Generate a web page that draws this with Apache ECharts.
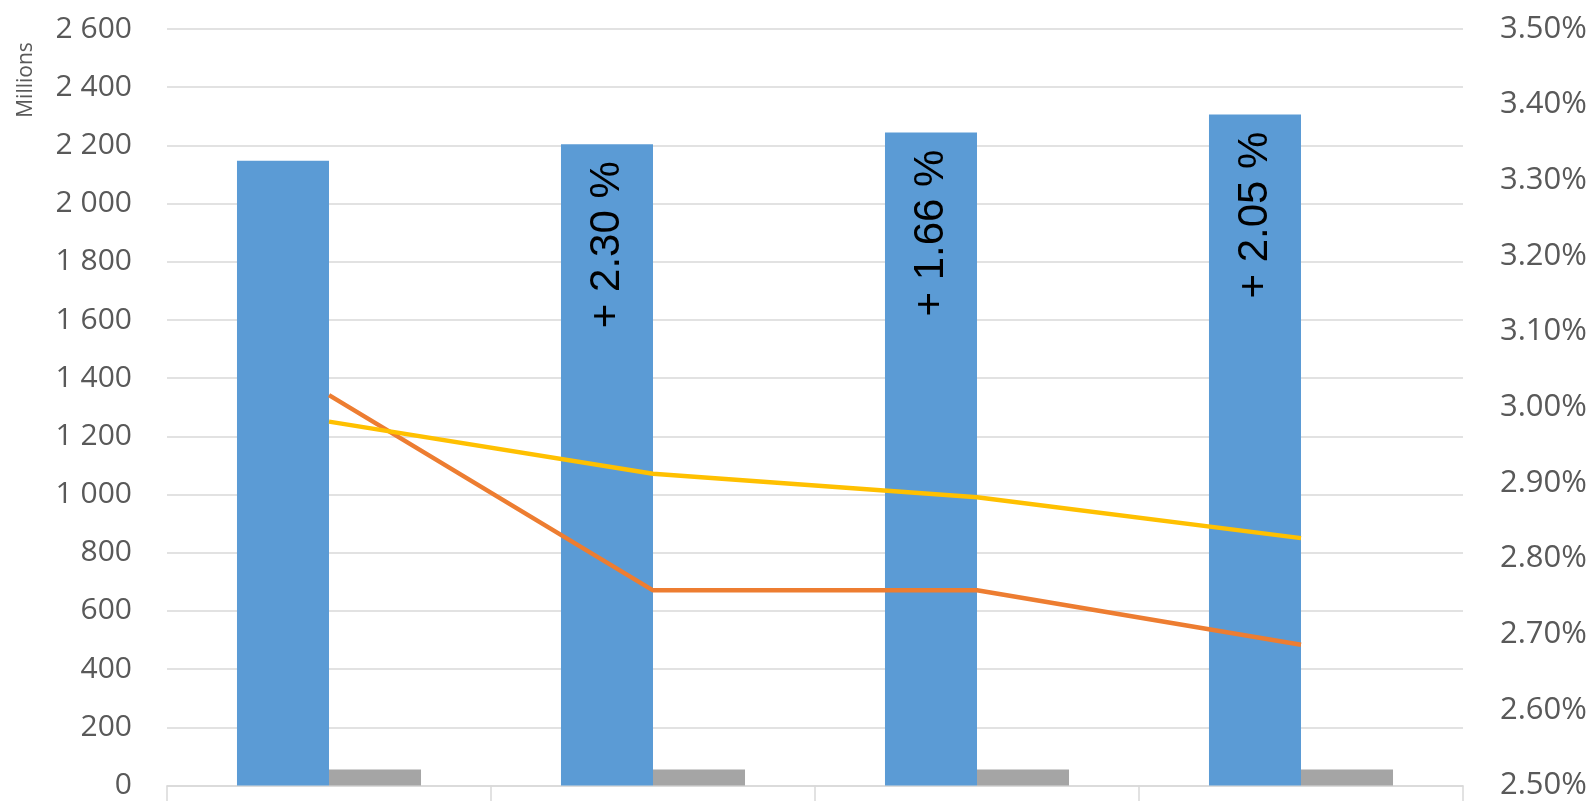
<!DOCTYPE html>
<html>
<head>
<meta charset="utf-8">
<script src="https://cdn.jsdelivr.net/npm/echarts@6/dist/echarts.min.js"></script>
<style>
  html, body { margin: 0; padding: 0; background: #fff; }
  #chart { width: 1595px; height: 801px; }
</style>
</head>
<body>
<div id="chart"></div>
<script>
// Categories (unlabelled on the axis)
const categories = ['1', '2', '3', '4'];
// Left axis, millions
const totalValues = [2147, 2204, 2244, 2306];
const smallValues = [55, 55, 55, 55];
// Growth labels shown inside the main bars
const growthLabels = ['', '+ 2.30 %', '+ 1.66 %', '+ 2.05 %'];
// Right axis, percent
const orangeRates = [3.016, 2.758, 2.758, 2.686];
const yellowRates = [2.981, 2.912, 2.881, 2.827];

const axisTextColor = '#595959';
const gridColor = '#D9D9D9';

function spaceThousands(v) {
  return String(Math.round(v)).replace(/\B(?=(\d{3})+(?!\d))/g, ' ');
}

const chart = echarts.init(document.getElementById('chart'), null, { renderer: 'canvas' });

chart.setOption({
  animation: false,
  backgroundColor: '#ffffff',
  grid: { left: 167, right: 132, top: 29, bottom: 14, containLabel: false },
  xAxis: {
    type: 'category',
    data: categories,
    boundaryGap: true,
    axisLine: { show: true, lineStyle: { color: gridColor, width: 1.5 } },
    axisTick: { show: true, length: 16, interval: 0, lineStyle: { color: gridColor, width: 1.5 } },
    axisLabel: { show: false }
  },
  yAxis: [
    {
      type: 'value',
      min: 0,
      max: 2600,
      interval: 200,
      axisLine: { show: false },
      axisTick: { show: false },
      splitLine: { show: true, lineStyle: { color: gridColor, width: 1.5 } },
      axisLabel: {
        color: axisTextColor,
        fontFamily: 'Open Sans',
        fontSize: 30,
        margin: 35,
        formatter: spaceThousands
      }
    },
    {
      type: 'value',
      min: 2.5,
      max: 3.5,
      interval: 0.1,
      position: 'right',
      axisLine: { show: false },
      axisTick: { show: false },
      splitLine: { show: false },
      axisLabel: {
        color: axisTextColor,
        fontFamily: 'Open Sans',
        fontSize: 31,
        margin: 37,
        formatter: v => v.toFixed(2) + '%'
      }
    }
  ],
  graphic: [
    {
      type: 'text',
      x: 26,
      y: 80,
      rotation: Math.PI / 2,
      style: {
        text: 'Millions',
        fill: axisTextColor,
        font: '21px "Open Sans"',
        textAlign: 'center',
        textVerticalAlign: 'middle'
      }
    }
  ],
  series: [
    {
      name: 'Total',
      type: 'bar',
      yAxisIndex: 0,
      data: totalValues,
      barWidth: '28.4%',
      barGap: '0%',
      itemStyle: { color: '#5B9BD5' },
      label: {
        show: true,
        position: 'insideTop',
        rotate: 90,
        align: 'right',
        verticalAlign: 'middle',
        distance: 17,
        color: '#000000',
        fontFamily: 'Liberation Sans',
        fontSize: 42,
        formatter: p => growthLabels[p.dataIndex]
      }
    },
    {
      name: 'Small',
      type: 'bar',
      yAxisIndex: 0,
      data: smallValues,
      barWidth: '28.4%',
      barGap: '0%',
      itemStyle: { color: '#A5A5A5' }
    },
    {
      name: 'Orange',
      type: 'line',
      yAxisIndex: 1,
      data: orangeRates,
      showSymbol: false,
      symbol: 'none',
      lineStyle: { color: '#ED7D31', width: 4.5 },
      z: 5
    },
    {
      name: 'Yellow',
      type: 'line',
      yAxisIndex: 1,
      data: yellowRates,
      showSymbol: false,
      symbol: 'none',
      lineStyle: { color: '#FFC000', width: 4.5 },
      z: 6
    }
  ]
});
</script>
</body>
</html>
